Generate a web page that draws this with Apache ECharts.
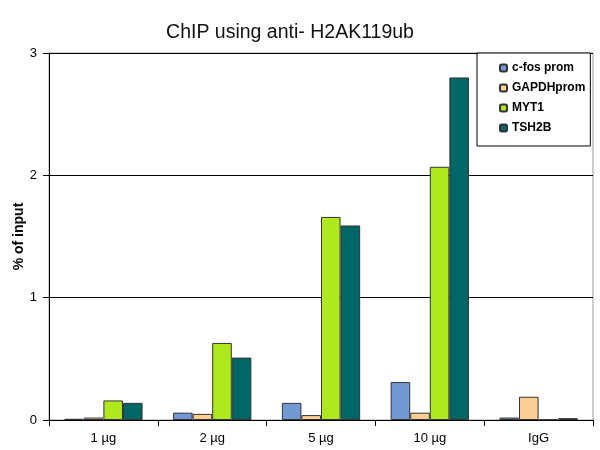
<!DOCTYPE html>
<html><head><meta charset="utf-8">
<script src="https://cdn.jsdelivr.net/npm/echarts@6/dist/echarts.min.js"></script>
<style>html,body{margin:0;padding:0;background:#fff}#c{width:600px;height:450px}</style>
</head><body><div id="c"></div>
<script>
const categories = ['1 µg', '2 µg', '5 µg', '10 µg', 'IgG'];
const seriesNames = ['c-fos prom', 'GAPDHprom', 'MYT1', 'TSH2B'];
const cfos = [0.01, 0.06, 0.14, 0.31, 0.02];
const gapdh = [0.02, 0.05, 0.04, 0.06, 0.19];
const myt1 = [0.16, 0.63, 1.66, 2.07, 0.005];
const tsh2b = [0.14, 0.51, 1.59, 2.80, 0.015];
const yTicks = [0, 1, 2, 3];
const colors = ['#7399D4', '#FBCF94', '#AEE81E', '#006666'];

const values = [cfos, gapdh, myt1, tsh2b];
const chart = echarts.init(document.getElementById('c'));
chart.setOption({
  animation: false,
  backgroundColor: '#fff',
  title: {
    text: 'ChIP using anti- H2AK119ub',
    left: 285, top: 18, textAlign: 'center',
    textStyle: { fontFamily: 'Liberation Sans, Arial', fontSize: 19.5, fontWeight: 'normal', color: '#111' }
  },
  legend: {
    orient: 'vertical',
    left: 477, top: 53,
    padding: [9, 5, 12, 22],
    itemGap: 8,
    itemWidth: 7, itemHeight: 7,
    borderColor: '#000', borderWidth: 1,
    backgroundColor: '#fff',
    textStyle: { fontFamily: 'Liberation Sans Narrow, Liberation Sans', fontSize: 12, fontWeight: 'bold', color: '#000' },
    data: seriesNames
  },
  grid: { left: 49, right: 7, top: 53, bottom: 30, show: true, borderColor: '#999', borderWidth: 1, outerBoundsMode: 'none', containLabel: false },
  xAxis: {
    type: 'category',
    data: categories,
    axisLine: { lineStyle: { color: '#000', width: 1 } },
    axisTick: { show: true, length: 6, lineStyle: { color: '#000' } },
    axisLabel: { fontFamily: 'Liberation Sans, Arial', fontSize: 13, color: '#000', margin: 12 }
  },
  yAxis: {
    type: 'value',
    min: yTicks[0], max: yTicks[yTicks.length - 1], interval: 1,
    name: '% of input',
    nameLocation: 'middle',
    nameGap: 23,
    nameMoveOverlap: false,
    nameTextStyle: { fontFamily: 'Liberation Sans, Arial', fontSize: 14, fontWeight: 'bold', color: '#000' },
    axisLine: { show: true, lineStyle: { color: '#000', width: 1 } },
    axisTick: { show: true, length: 6, lineStyle: { color: '#000' } },
    axisLabel: { fontFamily: 'Liberation Sans, Arial', fontSize: 13, color: '#000', margin: 12 },
    splitLine: { show: true, lineStyle: { color: '#000', width: 1 } }
  },
  series: seriesNames.map((n, i) => ({
    name: n,
    type: 'bar',
    data: values[i],
    barGap: '0%',
    barCategoryGap: '28%',
    itemStyle: { color: colors[i], borderColor: '#333', borderWidth: 1 }
  }))
});
</script></body></html>
